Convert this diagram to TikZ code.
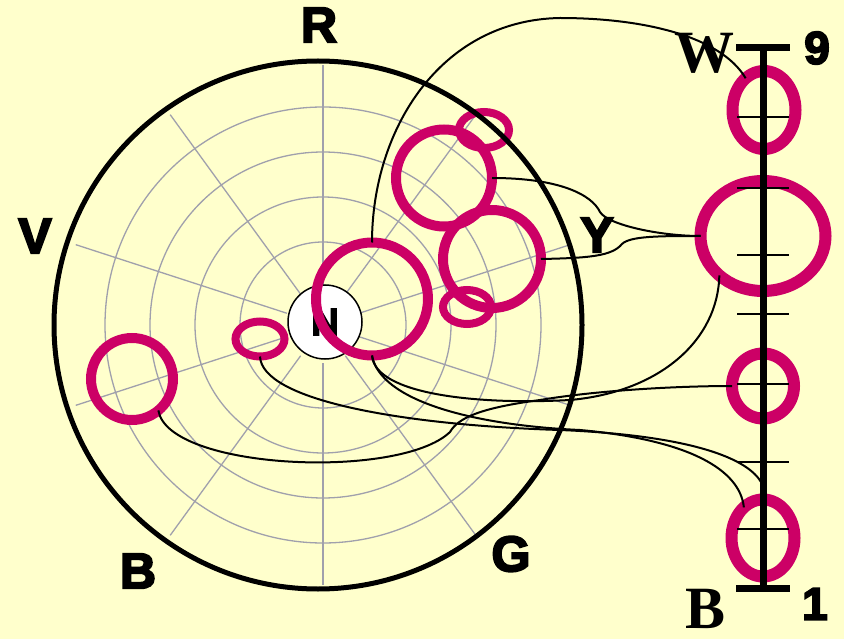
\documentclass[tikz,border=0pt]{standalone}
\usepackage{fontspec}
\setmainfont{Liberation Serif}
\setsansfont{Liberation Sans}
\newfontfamily\heavysans{Liberation Sans Bold}[FakeBold=4]
\usepackage{tikz}
\usetikzlibrary{shapes.geometric}
\definecolor{paper}{HTML}{FFFFCC}
\definecolor{ringmag}{HTML}{CC0066}
\definecolor{gridgray}{RGB}{160,160,172}

\begin{document}
\begin{tikzpicture}[
    x=1pt, y=-1pt,
    gridline/.style={draw=gridgray, line width=1.3pt},
    ring/.style={draw=ringmag, ellipse, inner sep=0pt, outer sep=0pt, line width=10pt},
    thinring/.style={ring, line width=8pt},
    scalering/.style={ring, line width=12pt},
    link/.style={draw=black, line width=2pt},
    hue/.style={font=\heavysans\fontsize{50}{50}\selectfont, inner sep=0pt},
    valnum/.style={font=\heavysans\fontsize{46}{46}\selectfont, inner sep=0pt},
    valend/.style={font=\rmfamily\bfseries\fontsize{60}{60}\selectfont, inner sep=0pt}
  ]
  \fill[paper] (0,0) rectangle (844,639);
  \useasboundingbox (0,0) rectangle (844,639);

  \coordinate (pole) at (323,325);
  \foreach \r in {83,128,173,218}
    \draw[gridline] (pole) circle (\r pt);
  \foreach \a in {18,54,...,342}
    \draw[gridline] (pole) ++(\a:38) -- ++(\a:222);

  \node[draw, circle, fill=white, line width=1.5pt, minimum size=74pt, inner sep=0pt,
        font=\heavysans\fontsize{38}{38}\selectfont] (hub) at (325,322) {N};

  \node[hue] (hueR) at (319,25) {R};
  \node[hue] (hueV) at (35,236) {V};
  \node[hue] (hueY) at (597,235) {Y};
  \node[hue] (hueG) at (511,554) {G};
  \node[hue] (hueB) at (138,571) {B};
  \node[valnum] (top9) at (817,48) {9};
  \node[valnum] (bot1) at (815,604) {1};
  \node[valend] (valW) at (704,53) {W};
  \node[valend] (valB) at (706,609) {B};

  \node[thinring, minimum width=50pt, minimum height=36pt] (ringA) at (484,130) {};
  \node[ring, minimum width=96pt, minimum height=97pt] (ringB) at (444,178) {};
  \node[ring, minimum width=98pt, minimum height=98pt] (ringC) at (492,259) {};
  \node[thinring, minimum width=48pt, minimum height=34pt] (ringD) at (467,307) {};
  \node[ring, minimum width=112pt, minimum height=113pt] (ringE) at (372,299) {};
  \node[thinring, minimum width=49pt, minimum height=35pt] (ringF) at (260,339) {};
  \node[ring, minimum width=82pt, minimum height=82pt] (ringG) at (132,379) {};

  \node[scalering, minimum width=63pt, minimum height=78pt] (ringW) at (764,110) {};
  \node[scalering, minimum width=125pt, minimum height=110pt] (ringY) at (763,236) {};
  \node[scalering, minimum width=62pt, minimum height=65pt] (ringM) at (763,386) {};
  \node[scalering, minimum width=63pt, minimum height=77pt] (ringK) at (763,538) {};

  \node[draw, circle, line width=5pt, minimum size=528pt, inner sep=0pt] (rim) at (318,325) {};

  \draw[link] (ringE.north) .. controls (372,130) and (440,20) .. (560,18)
              .. controls (640,18) and (720,35) .. (ringW.120);
  \draw[link] (ringB.east) .. controls (560,178) and (592,195) .. (600,212)
              .. controls (608,225) and (660,236) .. (ringY.west);
  \draw[link] (ringC.east) .. controls (590,258) and (612,256) .. (622,244)
              .. controls (630,236) and (660,236) .. (ringY.west);
  \draw[link] (ringE.south) .. controls (375,395) and (480,405) .. (570,400)
              .. controls (660,392) and (718,340) .. (ringY.222);
  \draw[link] (ringE.south) .. controls (380,400) and (470,425) .. (580,430)
              .. controls (690,440) and (740,470) .. (ringK.122);
  \coordinate (vHit) at (761,482);
  \draw[link] (ringF.south) .. controls (262,400) and (400,425) .. (560,430)
              .. controls (680,435) and (745,455) .. (vHit);
  \draw[link] (ringG.-50) .. controls (168,470) and (400,480) .. (450,432)
              .. controls (458,418) and (480,408) .. (540,400)
              .. controls (600,390) and (680,386) .. (ringM.west);

  \coordinate (vTop) at (763,48);
  \coordinate (vBot) at (763,588);
  \draw[line width=7pt] (vTop) -- (vBot);
  \draw[line width=7pt] (vTop) ++(-27,0) -- ++(54,0);
  \draw[line width=7pt] (vBot) ++(-27,0) -- ++(54,0);
  \foreach \v in {117,188,255,314,384,462,529}
    \draw[line width=2.5pt] (737,\v) -- (789,\v);

\end{tikzpicture}
\end{document}
